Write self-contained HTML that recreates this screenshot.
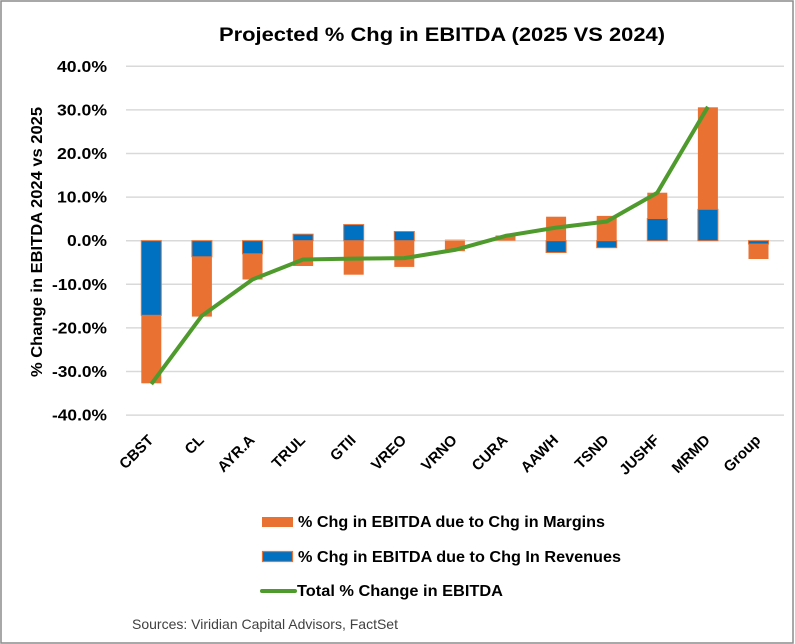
<!DOCTYPE html>
<html>
<head>
<meta charset="utf-8">
<style>
  html,body{margin:0;padding:0;background:#fff;}
  svg{display:block;}
  text{font-family:"Liberation Sans",sans-serif;}
</style>
</head>
<body>
<svg width="795" height="644" viewBox="0 0 795 644" xmlns="http://www.w3.org/2000/svg">
  <rect x="0" y="0" width="795" height="644" fill="#fff"/>
  <rect x="1" y="1" width="792" height="642" fill="none" stroke="#8c8c8c" stroke-width="1.5"/>

  <!-- Title -->
  <text x="219" y="41" font-size="19" font-weight="bold" fill="#000" textLength="446" lengthAdjust="spacingAndGlyphs">Projected % Chg in EBITDA (2025 VS 2024)</text>

  <!-- Gridlines -->
  <g stroke="#d9d9d9" stroke-width="1.5">
    <line x1="126" y1="66.3" x2="784" y2="66.3"/>
    <line x1="126" y1="109.9" x2="784" y2="109.9"/>
    <line x1="126" y1="153.5" x2="784" y2="153.5"/>
    <line x1="126" y1="197.1" x2="784" y2="197.1"/>
    <line x1="126" y1="240.7" x2="784" y2="240.7"/>
    <line x1="126" y1="284.3" x2="784" y2="284.3"/>
    <line x1="126" y1="327.9" x2="784" y2="327.9"/>
    <line x1="126" y1="371.5" x2="784" y2="371.5"/>
    <line x1="126" y1="415.1" x2="784" y2="415.1"/>
  </g>

  <!-- Y tick labels -->
  <g font-size="16" font-weight="bold" fill="#000" text-anchor="end">
    <text x="107" y="71.8" textLength="50" lengthAdjust="spacingAndGlyphs">40.0%</text>
    <text x="107" y="115.4" textLength="50" lengthAdjust="spacingAndGlyphs">30.0%</text>
    <text x="107" y="159" textLength="50" lengthAdjust="spacingAndGlyphs">20.0%</text>
    <text x="107" y="202.6" textLength="50" lengthAdjust="spacingAndGlyphs">10.0%</text>
    <text x="107" y="246.2" textLength="40" lengthAdjust="spacingAndGlyphs">0.0%</text>
    <text x="107" y="289.8" textLength="55" lengthAdjust="spacingAndGlyphs">-10.0%</text>
    <text x="107" y="333.4" textLength="55" lengthAdjust="spacingAndGlyphs">-20.0%</text>
    <text x="107" y="377" textLength="55" lengthAdjust="spacingAndGlyphs">-30.0%</text>
    <text x="107" y="420.6" textLength="55" lengthAdjust="spacingAndGlyphs">-40.0%</text>
  </g>

  <!-- Y axis title -->
  <text transform="translate(42,242) rotate(-90)" text-anchor="middle" font-size="16" font-weight="bold" fill="#000" textLength="270" lengthAdjust="spacingAndGlyphs">% Change in EBITDA 2024 vs 2025</text>

  <!-- Bars -->
  <g>
    <rect x="141.3" y="240.7" width="20" height="74.6" fill="#0070C0" stroke="#E97132" stroke-width="1"/>
    <rect x="141.3" y="315.3" width="20" height="68" fill="#E97132"/>
    <rect x="191.9" y="240.7" width="20" height="16.1" fill="#0070C0" stroke="#E97132" stroke-width="1"/>
    <rect x="191.9" y="256.8" width="20" height="59.8" fill="#E97132"/>
    <rect x="242.5" y="240.7" width="20" height="13.1" fill="#0070C0" stroke="#E97132" stroke-width="1"/>
    <rect x="242.5" y="253.8" width="20" height="25.7" fill="#E97132"/>
    <rect x="293.1" y="234.2" width="20" height="6.5" fill="#0070C0" stroke="#E97132" stroke-width="1"/>
    <rect x="293.1" y="240.7" width="20" height="25.3" fill="#E97132"/>
    <rect x="343.7" y="224.6" width="20" height="16.1" fill="#0070C0" stroke="#E97132" stroke-width="1"/>
    <rect x="343.7" y="240.7" width="20" height="34" fill="#E97132"/>
    <rect x="394.3" y="231.5" width="20" height="9.2" fill="#0070C0" stroke="#E97132" stroke-width="1"/>
    <rect x="394.3" y="240.7" width="20" height="26.2" fill="#E97132"/>
    <rect x="444.9" y="239.4" width="20" height="1.3" fill="#f4b183"/>
    <rect x="444.9" y="240.7" width="20" height="10.5" fill="#E97132"/>
    <rect x="495.5" y="235.5" width="20" height="5.2" fill="#E97132"/>
    <rect x="546.1" y="216.7" width="20" height="24" fill="#E97132"/>
    <rect x="546.1" y="240.7" width="20" height="11.8" fill="#0070C0" stroke="#E97132" stroke-width="1"/>
    <rect x="596.7" y="215.9" width="20" height="24.8" fill="#E97132"/>
    <rect x="596.7" y="240.7" width="20" height="7" fill="#0070C0" stroke="#E97132" stroke-width="1"/>
    <rect x="647.3" y="218.5" width="20" height="22.2" fill="#0070C0" stroke="#E97132" stroke-width="1"/>
    <rect x="647.3" y="192.7" width="20" height="25.8" fill="#E97132"/>
    <rect x="697.9" y="209.3" width="20" height="31.4" fill="#0070C0" stroke="#E97132" stroke-width="1"/>
    <rect x="697.9" y="107.3" width="20" height="102" fill="#E97132"/>
    <rect x="748.5" y="240.7" width="20" height="3.3" fill="#0070C0" stroke="#E97132" stroke-width="1"/>
    <rect x="748.5" y="244" width="20" height="15" fill="#E97132"/>
  </g>

  <!-- Total line -->
  <polyline fill="none" stroke="#4E9A2C" stroke-width="4" stroke-linejoin="round" stroke-linecap="butt"
    points="151.3,384.1 201.9,315.7 252.5,279.5 303.1,259.5 353.7,258.6 404.3,258.1 454.9,249.9 505.5,235.9 556.1,227.6 606.7,221.5 657.3,192.7 707.9,106.8"/>

  <!-- X labels -->
  <g font-size="15" font-weight="bold" fill="#000" text-anchor="end">
    <text transform="translate(154.3,441) rotate(-45)">CBST</text>
    <text transform="translate(204.9,441) rotate(-45)">CL</text>
    <text transform="translate(255.5,441) rotate(-45)">AYR.A</text>
    <text transform="translate(306.1,441) rotate(-45)">TRUL</text>
    <text transform="translate(356.7,441) rotate(-45)">GTII</text>
    <text transform="translate(407.3,441) rotate(-45)">VREO</text>
    <text transform="translate(457.9,441) rotate(-45)">VRNO</text>
    <text transform="translate(508.5,441) rotate(-45)">CURA</text>
    <text transform="translate(559.1,441) rotate(-45)">AAWH</text>
    <text transform="translate(609.7,441) rotate(-45)">TSND</text>
    <text transform="translate(660.3,441) rotate(-45)">JUSHF</text>
    <text transform="translate(710.9,441) rotate(-45)">MRMD</text>
    <text transform="translate(761.5,441) rotate(-45)">Group</text>
  </g>

  <!-- Legend -->
  <rect x="262" y="517" width="31" height="10" fill="#E97132"/>
  <text x="298" y="527" font-size="16" font-weight="bold" fill="#000" textLength="307" lengthAdjust="spacingAndGlyphs">% Chg in EBITDA due to Chg in Margins</text>
  <rect x="262.5" y="551.5" width="30" height="10" fill="#0070C0" stroke="#E97132" stroke-width="1.2"/>
  <text x="298" y="562" font-size="16" font-weight="bold" fill="#000" textLength="323" lengthAdjust="spacingAndGlyphs">% Chg in EBITDA due to Chg In Revenues</text>
  <line x1="262" y1="591" x2="295" y2="591" stroke="#4E9A2C" stroke-width="4" stroke-linecap="round"/>
  <text x="297" y="596" font-size="16" font-weight="bold" fill="#000" textLength="206" lengthAdjust="spacingAndGlyphs">Total % Change in EBITDA</text>

  <!-- Source -->
  <text x="132" y="629" font-size="14" fill="#404040" textLength="266" lengthAdjust="spacingAndGlyphs">Sources: Viridian Capital Advisors, FactSet</text>
</svg>
</body>
</html>
